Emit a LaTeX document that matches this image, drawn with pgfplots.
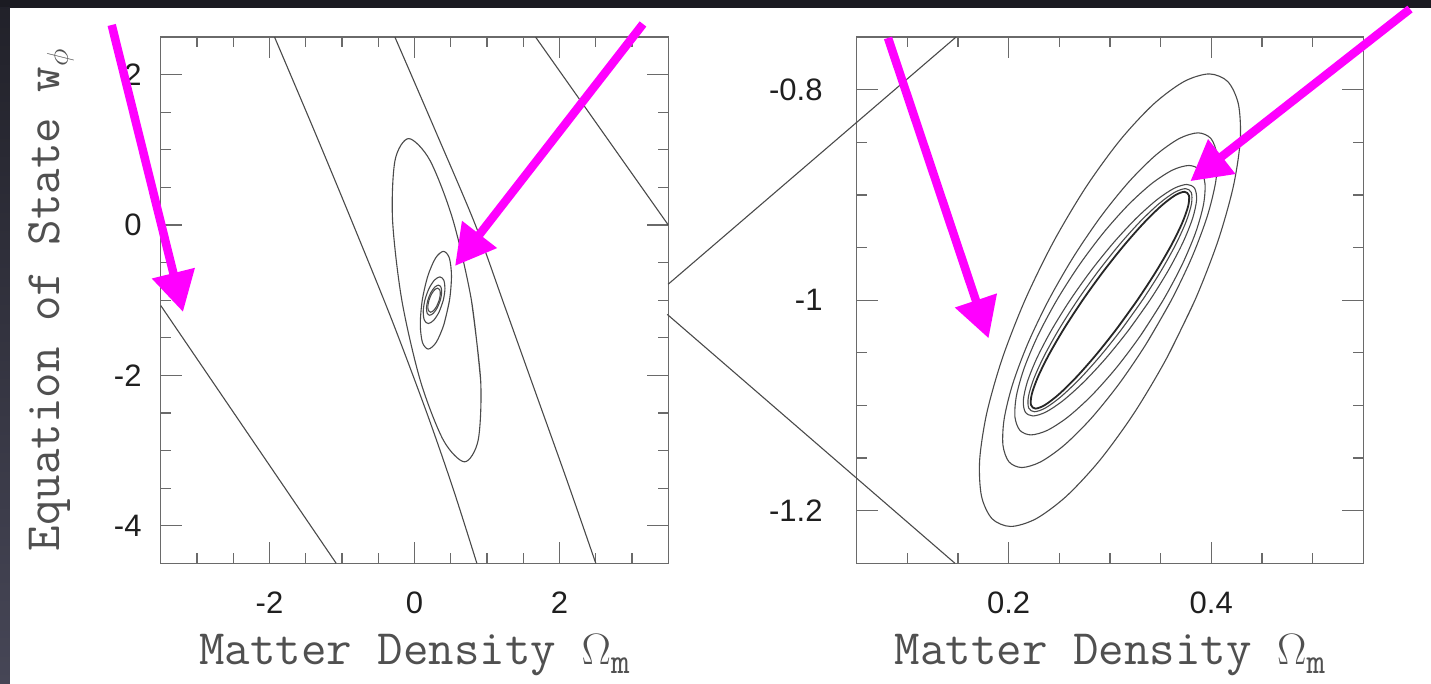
\RequirePackage{fix-cm}
\documentclass[border=0pt]{standalone}
\usepackage{graphicx}
\usepackage[no-math]{fontspec}
\setmainfont{Liberation Sans}
\usepackage{pgfplots}
\pgfplotsset{compat=1.18}
\usetikzlibrary{arrows.meta}
\definecolor{mag}{HTML}{FF00FF}
\definecolor{framec}{HTML}{6A6A6A}
\definecolor{contc}{HTML}{4A4A4A}
\definecolor{labc}{HTML}{505050}
\definecolor{bgdark}{HTML}{1B1B22}
\definecolor{bgslate}{HTML}{464656}
\pgfplotsset{
  panel/.style={scale only axis, anchor=south west, height=526.2pt,
    tick align=inside, major tick length=21pt, minor tick length=10pt,
    axis line style={framec, line width=1.3pt},
    tick style={framec, line width=1.2pt},
    ticklabel style={font=\fontsize{31}{31}\selectfont, text=black!88},
    xticklabel style={inner sep=0pt, anchor=north, yshift=-28pt},
    label style={text=labc, inner sep=0pt},
  },
  ct/.style={contc, line width=1.1pt, no markers},
}
\newcommand{\xlab}{{\ttfamily\fontsize{49.5}{50}\selectfont Matter Density {\fontsize{44}{44}\selectfont$\Omega$}\raisebox{-9pt}{\fontsize{36}{36}\selectfont m}}}
\newcommand{\ylab}{{\ttfamily\fontsize{49.5}{50}\selectfont Equation of State w\raisebox{-8pt}{\fontsize{30}{30}\selectfont$\phi$}}}
\begin{document}
\begin{tikzpicture}[x=1pt,y=1pt]
\path[use as bounding box] (0,0) rectangle (1431,684);
\fill[bgdark] (0,0) rectangle (1431,684);
\shade[top color=bgdark!85!bgslate, bottom color=bgslate] (0,0) rectangle (10,676);
\fill[white] (10,0) rectangle (1431,676);

% ---------- left panel ----------
\begin{axis}[panel, at={(160.7pt,120.7pt)}, width=507.6pt,
  xmin=-3.5, xmax=3.5, ymin=-4.5, ymax=2.5,
  xtick={-2,0,2}, xticklabels={-2,0,2},
  ytick={-4,-2,0,2}, yticklabels={-4,-2,0,2},
  minor xtick={-3,-2.5,-1.5,-1,-0.5,0.5,1,1.5,2.5,3},
  minor ytick={-3.5,-3,-2.5,-1.5,-1,-0.5,0.5,1,1.5},
  yticklabel style={inner sep=0pt, anchor=east, xshift=-19pt},
  xlabel={\xlab},
  xlabel style={at={(axis description cs:0.5,-0.1914)}, anchor=base},
  ylabel={\ylab},
  ylabel style={at={(axis description cs:-0.1984,0.5)}, anchor=base},
]
\addplot[ct] coordinates {(-3.5,-1.07) (-1.08,-4.5)};
\addplot[ct, smooth] coordinates {(-1.93,2.5) (-1.38,1.25) (-0.8425,0) (-0.3175,-1.25) (0.17,-2.5) (0.53,-3.5) (0.86,-4.5)};
\addplot[ct, smooth] coordinates {(-0.27,2.5) (0.29,1.25) (0.84,0.0) (1.24,-1.07) (1.67,-2.23) (2.10,-3.39) (2.50,-4.5)};
\addplot[ct] coordinates {(1.67,2.5) (3.5,0.0)};
\addplot[ct, smooth] coordinates {(0.785,-1) (0.913,-2.075) (0.878,-2.862) (0.69,-3.15) (0.398,-2.862) (0.082,-2.075) (-0.175,-1) (-0.303,0.075) (-0.268,0.862) (-0.08,1.15) (0.212,0.862) (0.528,0.075) (0.785,-1) (0.913,-2.075)};
\addplot[ct, smooth] coordinates {(0.483,-1) (0.405,-1.325) (0.298,-1.563) (0.19,-1.65) (0.110,-1.563) (0.080,-1.325) (0.107,-1) (0.185,-0.675) (0.292,-0.437) (0.40,-0.35) (0.480,-0.437) (0.510,-0.675) (0.483,-1) (0.405,-1.325)};
\addplot[ct, smooth] coordinates {(0.397,-1) (0.34,-1.155) (0.264,-1.268) (0.19,-1.31) (0.137,-1.268) (0.12,-1.155) (0.143,-1) (0.20,-0.845) (0.276,-0.732) (0.35,-0.69) (0.403,-0.732) (0.42,-0.845) (0.397,-1) (0.34,-1.155)};
\addplot[ct, smooth] coordinates {(0.356,-1) (0.3145,-1.10) (0.261,-1.173) (0.21,-1.20) (0.175,-1.173) (0.1655,-1.10) (0.184,-1) (0.2255,-0.90) (0.279,-0.827) (0.33,-0.80) (0.365,-0.827) (0.3745,-0.90) (0.356,-1) (0.3145,-1.10)};
\addplot[ct, smooth] coordinates {(0.34,-1) (0.306,-1.08) (0.262,-1.139) (0.22,-1.16) (0.192,-1.139) (0.184,-1.08) (0.20,-1) (0.234,-0.92) (0.278,-0.861) (0.32,-0.84) (0.348,-0.861) (0.356,-0.92) (0.34,-1) (0.306,-1.08)};
\end{axis}

% ---------- right panel ----------
\begin{axis}[panel, at={(856.7pt,120.7pt)}, width=506.5pt, clip=false,
  xmin=0.05, xmax=0.55, ymin=-1.25, ymax=-0.75,
  xtick={0.2,0.4}, xticklabels={0.2,0.4},
  ytick={-1.2,-1,-0.8}, yticklabels={-1.2,-1,-0.8},
  minor xtick={0.1,0.15,0.25,0.3,0.35,0.45,0.5},
  minor ytick={-1.15,-1.1,-1.05,-0.95,-0.9,-0.85},
  yticklabel style={inner sep=0pt, anchor=east, xshift=-34pt},
  xlabel={\xlab},
  xlabel style={at={(axis description cs:0.5,-0.1914)}, anchor=base},
]
\addplot[ct] coordinates {(-0.1362,-0.9849) (0.148,-0.75)};
\addplot[ct] coordinates {(-0.137,-1.0135) (0.147,-1.25)};
% E1
\addplot[ct, smooth] coordinates {(0.3839,-1) (0.35568,-1.05564) (0.32366,-1.1075) (0.29003,-1.15203) (0.25708,-1.18619) (0.22705,-1.20767) (0.2020,-1.215) (0.18363,-1.20767) (0.17318,-1.18619) (0.17137,-1.15203) (0.17834,-1.1075) (0.1936,-1.05564) (0.2161,-1) (0.24432,-0.94436) (0.27634,-0.8925) (0.30997,-0.84797) (0.34292,-0.81381) (0.37295,-0.79233) (0.3980,-0.7850) (0.41637,-0.79233) (0.42682,-0.81381) (0.42863,-0.84797) (0.42166,-0.8925) (0.40640,-0.94436) (0.3839,-1) (0.35568,-1.05564)};
% E2
\addplot[ct, smooth] coordinates {(0.3606,-1) (0.33601,-1.04115) (0.30898,-1.0795) (0.28133,-1.11243) (0.25496,-1.13769) (0.23165,-1.15358) (0.213,-1.159) (0.20029,-1.15358) (0.19436,-1.13769) (0.19563,-1.11243) (0.20402,-1.0795) (0.21895,-1.04115) (0.2394,-1) (0.26399,-0.95885) (0.29102,-0.9205) (0.31867,-0.88757) (0.34504,-0.86231) (0.36835,-0.84642) (0.387,-0.841) (0.39971,-0.84642) (0.40564,-0.86231) (0.40437,-0.88757) (0.39598,-0.9205) (0.38105,-0.95885) (0.3606,-1) (0.33601,-1.04115)};
% E3
\addplot[ct, smooth] coordinates {(0.3525,-1) (0.33052,-1.03313) (0.30647,-1.064) (0.28197,-1.09051) (0.2587,-1.11085) (0.23825,-1.12364) (0.222,-1.128) (0.21107,-1.12364) (0.2062,-1.11085) (0.20773,-1.09051) (0.21553,-1.064) (0.2291,-1.03313) (0.2475,-1) (0.26948,-0.96687) (0.29353,-0.936) (0.31803,-0.90949) (0.3413,-0.88915) (0.36175,-0.87636) (0.378,-0.872) (0.38893,-0.87636) (0.3938,-0.88915) (0.39227,-0.90949) (0.38447,-0.936) (0.3709,-0.96687) (0.3525,-1) (0.33052,-1.03313)};
% E4
\addplot[ct, smooth] coordinates {(0.3394,-1) (0.31839,-1.02847) (0.29612,-1.055) (0.27412,-1.07778) (0.25388,-1.09526) (0.23679,-1.10625) (0.224,-1.11) (0.21639,-1.10625) (0.21448,-1.09526) (0.2184,-1.07778) (0.22788,-1.055) (0.24227,-1.02847) (0.2606,-1) (0.28161,-0.97153) (0.30388,-0.945) (0.32588,-0.92222) (0.34612,-0.90474) (0.36321,-0.89375) (0.376,-0.89) (0.38361,-0.89375) (0.38552,-0.90474) (0.3816,-0.92222) (0.37212,-0.945) (0.35773,-0.97153) (0.3394,-1) (0.31839,-1.02847)};
% E5
\addplot[ct, smooth] coordinates {(0.332,-1) (0.31163,-1.02743) (0.29046,-1.053) (0.26995,-1.07495) (0.25148,-1.0918) (0.23632,-1.10239) (0.2255,-1.106) (0.21976,-1.10239) (0.21948,-1.0918) (0.22469,-1.07495) (0.23504,-1.053) (0.24981,-1.02743) (0.268,-1) (0.28837,-0.97257) (0.30954,-0.947) (0.33005,-0.92505) (0.34852,-0.9082) (0.36368,-0.89761) (0.3745,-0.894) (0.38024,-0.89761) (0.38052,-0.9082) (0.37531,-0.92505) (0.36496,-0.947) (0.35019,-0.97257) (0.332,-1) (0.31163,-1.02743)};
% E6 (bold)
\addplot[ct, smooth, line width=1.8pt, black!85] coordinates {(0.327,-1) (0.30706,-1.02666) (0.28663,-1.0515) (0.26712,-1.07283) (0.24985,-1.0892) (0.236,-1.09949) (0.2265,-1.103) (0.22202,-1.09949) (0.22285,-1.0892) (0.22894,-1.07283) (0.23987,-1.0515) (0.2549,-1.02666) (0.273,-1) (0.29294,-0.97334) (0.31337,-0.9485) (0.33288,-0.92717) (0.35015,-0.9108) (0.364,-0.90051) (0.3735,-0.897) (0.37798,-0.90051) (0.37715,-0.9108) (0.37106,-0.92717) (0.36013,-0.9485) (0.3451,-0.97334) (0.327,-1) (0.30706,-1.02666)};
\end{axis}

% ---------- magenta arrows ----------
\begin{scope}[mag, line width=8.5pt, -{Triangle[length=40pt,width=42pt]}]
\draw (111.7,659) -- (183,372);
\draw (643,660) -- (455,418);
\draw (888,646) -- (988.6,345.6);
\draw (1410,675) -- (1190.3,502.8);
\end{scope}
\end{tikzpicture}
\end{document}
